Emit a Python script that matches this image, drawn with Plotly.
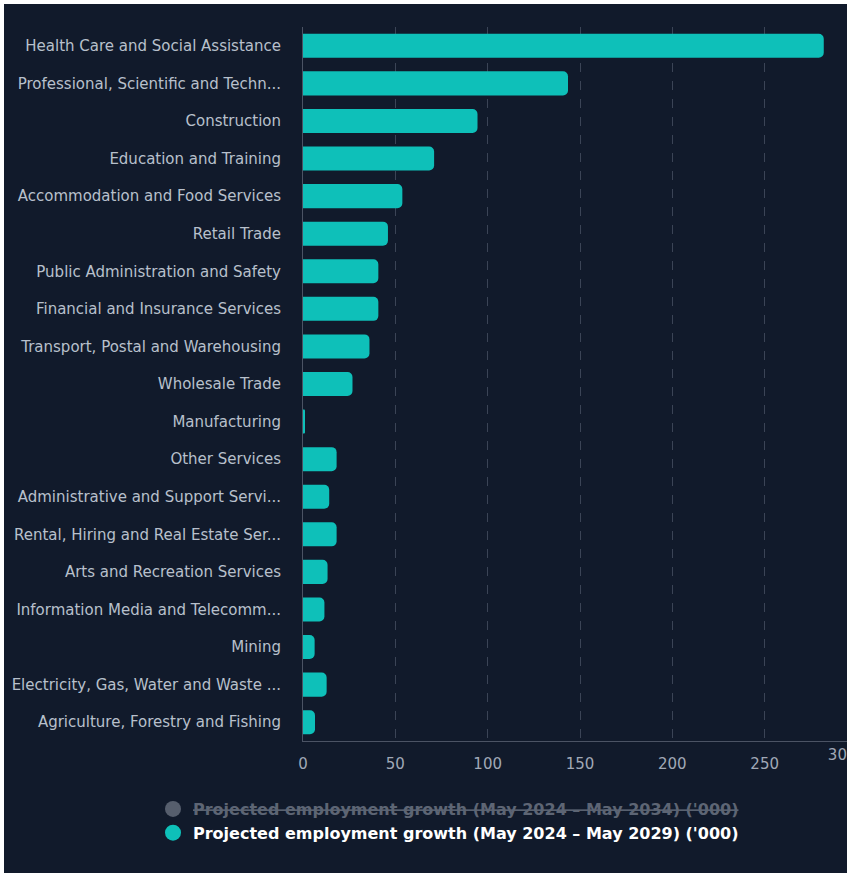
import plotly.graph_objects as go

# industries, top to bottom as shown
industries = [
    "Health Care and Social Assistance",
    "Professional, Scientific and Techn...",
    "Construction",
    "Education and Training",
    "Accommodation and Food Services",
    "Retail Trade",
    "Public Administration and Safety",
    "Financial and Insurance Services",
    "Transport, Postal and Warehousing",
    "Wholesale Trade",
    "Manufacturing",
    "Other Services",
    "Administrative and Support Servi...",
    "Rental, Hiring and Real Estate Ser...",
    "Arts and Recreation Services",
    "Information Media and Telecomm...",
    "Mining",
    "Electricity, Gas, Water and Waste ...",
    "Agriculture, Forestry and Fishing",
]

# projected growth May 2024 - May 2029 ('000)
growth_2029 = [282, 143.5, 94.5, 71, 53.8, 46, 40.8, 40.8, 36, 26.8,
               1.0, 18.2, 14.2, 18.2, 13.3, 11.6, 6.3, 12.8, 6.5]

x_ticks = [0, 50, 100, 150, 200, 250]
x_last_tick = [300]

name_2034 = "Projected employment growth (May 2024 \u2013 May 2034) ('000)"
name_2029 = "Projected employment growth (May 2024 \u2013 May 2029) ('000)"

BG = "#111a2b"
TEAL = "#0ec0b9"
FONT = "DejaVu Sans"
TICK_GREY = "#a0a8b6"

# figure a bit wider than the window so the 300 end of the axis is cut off
W, H = 860, 873
L, R, T, B = 303, 3, 27, 132

fig = go.Figure()
fig.add_trace(go.Bar(
    y=industries, x=growth_2029, orientation="h",
    marker=dict(color=TEAL, line=dict(width=0)),
    showlegend=False, name=name_2029,
))

# legend entries (circle markers); the 2034 series is switched off in the original
fig.add_trace(go.Scatter(
    x=[None], y=[None], mode="markers",
    marker=dict(color="#565e6d", size=16, symbol="circle"),
    name="<span style='color:#5d6574'><s><b>" + name_2034 + "</b></s></span>",
))
fig.add_trace(go.Scatter(
    x=[None], y=[None], mode="markers",
    marker=dict(color=TEAL, size=16, symbol="circle"),
    name="<b>" + name_2029 + "</b>",
))
# empty trace so the overlay axis for the last tick label gets drawn
fig.add_trace(go.Scatter(
    x=[None], y=[None], xaxis="x2", yaxis="y",
    mode="markers", showlegend=False, hoverinfo="skip",
))

# dark panel with a thin white edge on the left and top
pw = W - L - R
ph = H - T - B
fig.add_shape(
    type="rect", xref="paper", yref="paper", layer="below",
    x0=(4 - L) / pw, x1=(W - L) / pw,
    y0=(T + ph - H) / ph, y1=(T + ph - 4) / ph,
    fillcolor=BG, line=dict(width=0),
)

fig.update_layout(
    width=W, height=H,
    margin=dict(l=L, r=R, t=T, b=B, autoexpand=False),
    paper_bgcolor="white",
    plot_bgcolor=BG,
    font=dict(family=FONT, size=15, color="#b4bcc8"),
    bargap=0.36,
    barcornerradius=5,
    xaxis=dict(
        range=[0, 300],
        tickvals=x_ticks,
        showgrid=True, gridcolor="#3b4456", griddash="dash", gridwidth=1,
        zeroline=False,
        showline=True, linecolor="#4b5364", linewidth=1,
        tickfont=dict(size=15, color=TICK_GREY),
        ticks="outside", ticklen=9, tickcolor="rgba(0,0,0,0)",
        tickangle=0, automargin=False,
    ),
    # last tick label sits flush against the right edge in the original
    xaxis2=dict(
        overlaying="x", matches="x", side="bottom", anchor="y",
        range=[0, 300],
        tickvals=x_last_tick, ticklabelposition="outside left",
        showgrid=False, zeroline=False, showline=False,
        tickfont=dict(size=15, color=TICK_GREY),
        ticks="outside", ticklen=19, tickcolor="rgba(0,0,0,0)",
        tickangle=0, automargin=False,
    ),
    yaxis=dict(
        categoryorder="array", categoryarray=industries[::-1],
        showgrid=False, zeroline=False,
        showline=True, linecolor="#4b5364", linewidth=1,
        tickfont=dict(size=15, color="#b8c0cc"),
        ticks="outside", ticklen=18, tickcolor="rgba(0,0,0,0)",
        automargin=False,
    ),
    legend=dict(
        xref="container", yref="container",
        x=153 / W, y=1 - 792 / H, xanchor="left", yanchor="top",
        orientation="v", bgcolor="rgba(0,0,0,0)",
        font=dict(family=FONT, size=16, color="#ffffff"),
        itemsizing="trace", tracegroupgap=0,
    ),
)

# drop the default 8px page margin so the figure sits at the window corner
fig.write_html(
    "out.html",
    config={"displayModeBar": False},
    post_script="document.body.style.margin='0';",
)
